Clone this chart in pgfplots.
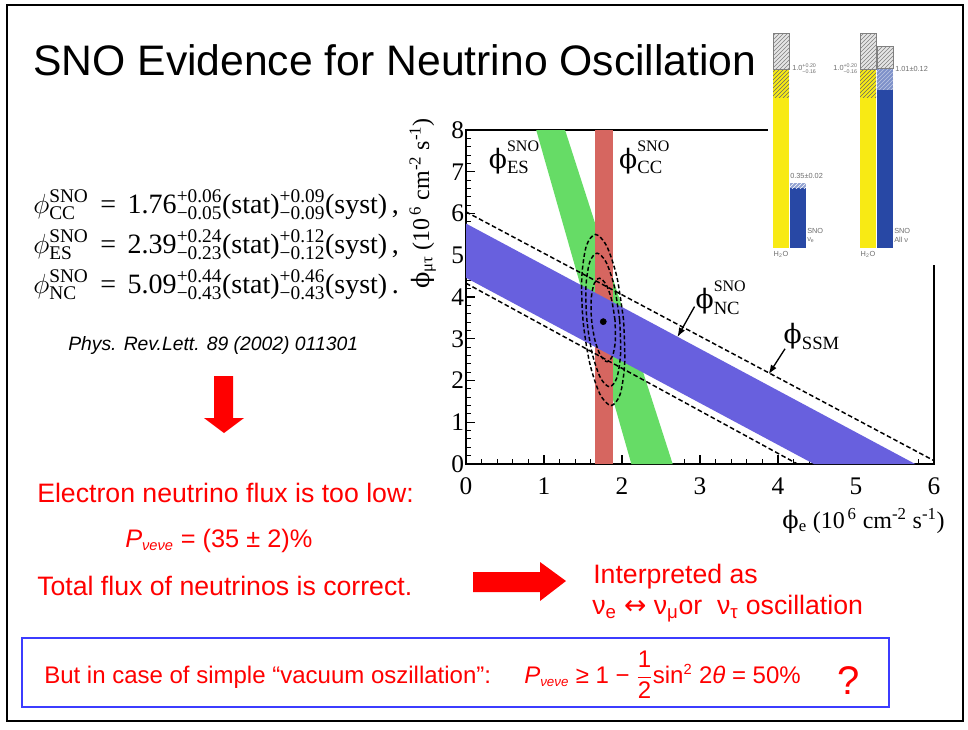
\documentclass[border=0pt]{standalone}
\usepackage{fontspec}
\setmainfont{Liberation Sans}
\newfontfamily\tms{Liberation Serif}
\newfontfamily\dvs{DejaVu Serif}
\newfontfamily\dvsans{DejaVu Sans}
\usepackage{pgfplots}
\pgfplotsset{compat=1.18}
\usetikzlibrary{patterns,arrows.meta}
\definecolor{slidered}{RGB}{255,0,0}
\definecolor{boxblue}{RGB}{60,60,255}
\definecolor{esgreen}{RGB}{102,220,102}
\definecolor{ccred}{RGB}{214,102,96}
\definecolor{ncblue}{RGB}{104,96,222}
\definecolor{barY}{RGB}{248,234,20}
\definecolor{barB}{RGB}{40,72,165}
\definecolor{insetgray}{RGB}{110,110,110}
\newcommand{\eqf}{\tms\fontsize{21}{21}\selectfont}
\newcommand{\eqs}{\tms\fontsize{14.5}{14.5}\selectfont}
\newcommand{\ud}[2]{$^{\hbox{\eqs #1}}_{\hbox{\eqs #2}}$}
\newcommand{\ins}{\fontsize{5.5}{5.5}\selectfont}
\newcommand{\insud}[2]{$^{\hbox{\fontsize{4}{4}\selectfont #1}}_{\hbox{\fontsize{4}{4}\selectfont #2}}$}
\newcommand{\ph}{{\dvs ϕ}}
% plot label: phi with SNO above and subscript below
\newcommand{\plab}[2]{\ph\rlap{\raisebox{13pt}{\tms\fontsize{12}{12}\selectfont #1}}\raisebox{-4pt}{\tms\fontsize{14}{14}\selectfont #2}}
\begin{document}
\begin{tikzpicture}
\begin{scope}[x=0.75pt,y=-0.75pt]
\fill[white] (0,0) rectangle (968,729);
\draw[line width=1.8pt] (7,5) rectangle (963,721);
% title
\node[anchor=base west,inner sep=0pt,font=\fontsize{32}{32}\selectfont] at (33,75) {SNO Evidence for Neutrino Oscillation};
% equations
\node[anchor=base west,inner sep=0pt] at (33,213) {\eqf $\phi^{\hbox{\eqs SNO}}_{\hbox{\eqs CC}}$\ \,=\ \,1.76\ud{+0.06}{−0.05}(stat)\ud{+0.09}{−0.09}(syst)\,,};
\node[anchor=base west,inner sep=0pt] at (33,253) {\eqf $\phi^{\hbox{\eqs SNO}}_{\hbox{\eqs ES}}$\ \,=\ \,2.39\ud{+0.24}{−0.23}(stat)\ud{+0.12}{−0.12}(syst)\,,};
\node[anchor=base west,inner sep=0pt] at (33,293) {\eqf $\phi^{\hbox{\eqs SNO}}_{\hbox{\eqs NC}}$\ \,=\ \,5.09\ud{+0.44}{−0.43}(stat)\ud{+0.46}{−0.43}(syst)\,.};
\node[anchor=base west,inner sep=0pt,font=\itshape\fontsize{14.5}{14.5}\selectfont] at (68,350) {Phys. Rev.Lett. 89 (2002) 011301};
% down arrow
\fill[slidered] (214,376) -- (233,376) -- (233,418) -- (244,418) -- (224,433) -- (204,418) -- (214,418) -- cycle;
% red texts
\begin{scope}[slidered]
\node[anchor=base west,inner sep=0pt,text=slidered,font=\fontsize{20}{20}\selectfont] at (37,502) {Electron neutrino flux is too low:};
\node[anchor=base west,inner sep=0pt,text=slidered,font=\fontsize{19}{19}\selectfont] at (125,547) {{\itshape P}$_{\hbox{\itshape\fontsize{11}{11}\selectfont νeνe}}$ = (35 ± 2)\%};
\node[anchor=base west,inner sep=0pt,text=slidered,font=\fontsize{20}{20}\selectfont] at (37,595) {Total flux of neutrinos is correct.};
\node[anchor=base west,inner sep=0pt,text=slidered,font=\fontsize{20}{20}\selectfont] at (593,583) {Interpreted as};
\node[anchor=base west,inner sep=0pt,text=slidered,font=\fontsize{20}{20}\selectfont] at (592,614) {ν\textsubscript{e} {\dvsans ↔} ν\textsubscript{μ}or\ \ ν\textsubscript{τ} oscillation};
\fill[slidered] (473,572) -- (540,572) -- (540,562) -- (566,581) -- (540,601) -- (540,592) -- (473,592) -- cycle;
\draw[boxblue,line width=1.6pt] (22,638) rectangle (889,707);
\node[anchor=base west,inner sep=0pt,text=slidered,font=\fontsize{18}{18}\selectfont] at (44,683) {But in case of simple “vacuum oszillation”:};
\node[anchor=base west,inner sep=0pt,text=slidered,font=\fontsize{18}{18}\selectfont] at (524,683) {{\itshape P}$_{\hbox{\itshape\fontsize{10}{10}\selectfont νeνe}}$ ≥ 1 − $\displaystyle\frac{\hbox{1}}{\hbox{2}}$sin$^{\hbox{\fontsize{11}{11}\selectfont 2}}$ 2{\itshape θ} = 50\%};
\node[anchor=base west,inner sep=0pt,text=slidered,font=\fontsize{30}{30}\selectfont] at (837,694) {?};
\end{scope}
\end{scope}

% main axis
\begin{axis}[at={(349.5pt,-348pt)}, anchor=south west, scale only axis,
  width=351pt, height=250.5pt,
  xmin=0, xmax=6, ymin=0, ymax=8,
  xtick={0,1,2,3,4,5,6}, ytick={0,1,2,3,4,5,6,7,8},
  minor x tick num=4, minor y tick num=4,
  tick align=inside, xtick pos=bottom, ytick pos=left,
  major tick length=7pt, minor tick length=3.5pt,
  every tick/.style={black, line width=0.8pt},
  axis line style={line width=0.9pt},
  /pgf/number format/assume math mode=true,
  tick label style={font=\tms\fontsize{19}{19}\selectfont},
  xticklabel style={yshift=-7pt},
  yticklabel style={xshift=2pt},
]
\addplot[fill=esgreen, draw=none] coordinates {(0.90,8) (1.27,8) (2.65,0) (2.12,0)} -- cycle;
\addplot[fill=ccred, draw=none] coordinates {(1.65,0) (1.88,0) (1.88,8) (1.65,8)} -- cycle;
\addplot[fill=ncblue, draw=none] coordinates {(0,5.76) (5.76,0) (4.46,0) (0,4.46)} -- cycle;
\addplot[black, line width=1.1pt, dash pattern=on 3.5pt off 2pt] coordinates {(0,6.04) (6,0.08)};
\addplot[black, line width=1.1pt, dash pattern=on 3.5pt off 2pt] coordinates {(0,4.33) (4.25,0)};
\addplot[black, line width=1.1pt, dash pattern=on 3pt off 1.8pt, smooth] coordinates {(2.02,3.45)(1.935,4.475)(1.803,5.225)(1.66,5.50)(1.543,5.225)(1.485,4.475)(1.50,3.45)(1.585,2.425)(1.717,1.675)(1.86,1.40)(1.977,1.675)(2.035,2.425)(2.02,3.45)};
\addplot[black, line width=1.1pt, dash pattern=on 3pt off 1.8pt, smooth] coordinates {(1.97,3.45)(1.902,4.25)(1.796,4.836)(1.68,5.05)(1.586,4.836)(1.538,4.25)(1.55,3.45)(1.618,2.65)(1.724,2.064)(1.84,1.85)(1.934,2.064)(1.982,2.65)(1.97,3.45)};
\addplot[black, line width=1.1pt, dash pattern=on 3pt off 1.8pt, smooth] coordinates {(1.91,3.45)(1.865,3.95)(1.792,4.316)(1.71,4.45)(1.642,4.316)(1.605,3.95)(1.61,3.45)(1.655,2.95)(1.728,2.584)(1.81,2.45)(1.878,2.584)(1.915,2.95)(1.91,3.45)};
\addplot[only marks, mark=*, mark size=2.3pt, black] coordinates {(1.76,3.41)};
\draw[-{Latex[length=7pt,width=5pt]}, line width=1pt] (axis cs:2.93,3.77) -- (axis cs:2.71,3.04);
\draw[-{Latex[length=7pt,width=5pt]}, line width=1pt] (axis cs:4.09,2.76) -- (axis cs:3.88,2.15);
\node[anchor=base west, inner sep=0pt, font=\tms\fontsize{20}{20}\selectfont] at (axis cs:0.29,7.08) {\plab{SNO}{ES}};
\node[anchor=base west, inner sep=0pt, font=\tms\fontsize{20}{20}\selectfont] at (axis cs:1.96,7.08) {\plab{SNO}{CC}};
\node[anchor=base west, inner sep=0pt, font=\tms\fontsize{20}{20}\selectfont] at (axis cs:2.94,3.72) {\plab{SNO}{NC}};
\node[anchor=base west, inner sep=0pt, font=\tms\fontsize{20}{20}\selectfont] at (axis cs:4.07,2.88) {\ph\raisebox{-4pt}{\tms\fontsize{14}{14}\selectfont SSM}};
\end{axis}

% inset bar chart
\begin{axis}[at={(576pt,-198.75pt)}, anchor=south west, scale only axis,
  width=144pt, height=180pt,
  xmin=768, xmax=960, ymin=-0.095, ymax=1.246,
  axis line style={draw=none}, xtick=\empty, ytick=\empty,
  axis background/.style={fill=white}, clip=false]
\addplot[fill=barY, draw=none] coordinates {(773,0)(789,0)(789,0.84)(773,0.84)} -- cycle;
\addplot[fill=barY, draw=none, postaction={pattern=north east lines, pattern color=black!60}] coordinates {(773,0.84)(789,0.84)(789,1.0)(773,1.0)} -- cycle;
\addplot[fill=gray!20, draw=gray, postaction={pattern=north east lines, pattern color=gray}] coordinates {(773,1.0)(789,1.0)(789,1.20)(773,1.20)} -- cycle;
\addplot[fill=barB, draw=none] coordinates {(790,0)(806,0)(806,0.335)(790,0.335)} -- cycle;
\addplot[fill=barB!50, draw=none, postaction={pattern=north east lines, pattern color=white}] coordinates {(790,0.335)(806,0.335)(806,0.365)(790,0.365)} -- cycle;
\addplot[fill=barY, draw=none] coordinates {(860,0)(876,0)(876,0.84)(860,0.84)} -- cycle;
\addplot[fill=barY, draw=none, postaction={pattern=north east lines, pattern color=black!60}] coordinates {(860,0.84)(876,0.84)(876,1.0)(860,1.0)} -- cycle;
\addplot[fill=gray!20, draw=gray, postaction={pattern=north east lines, pattern color=gray}] coordinates {(860,1.0)(876,1.0)(876,1.20)(860,1.20)} -- cycle;
\addplot[fill=barB, draw=none] coordinates {(877,0)(893,0)(893,0.885)(877,0.885)} -- cycle;
\addplot[fill=barB!60, draw=none, postaction={pattern=north east lines, pattern color=white!70!barB}] coordinates {(877,0.885)(893,0.885)(893,1.005)(877,1.005)} -- cycle;
\addplot[fill=gray!20, draw=gray, postaction={pattern=north east lines, pattern color=gray}] coordinates {(877,1.005)(893,1.005)(893,1.125)(877,1.125)} -- cycle;
\begin{scope}[every node/.style={inner sep=0pt, text=insetgray, font=\ins}]
\node[anchor=west] at (axis cs:792,1.0) {1.0\insud{+0.20}{−0.16}};
\node[anchor=west] at (axis cs:790,0.40) {0.35±0.02};
\node[anchor=west] at (axis cs:807,0.095) {SNO};
\node[anchor=west] at (axis cs:807,0.045) {ν\textsubscript{e}};
\node[anchor=center] at (axis cs:781,-0.035) {H\textsubscript{2}O};
\node[anchor=east] at (axis cs:858,1.0) {1.0\insud{+0.20}{−0.16}};
\node[anchor=west] at (axis cs:895,1.0) {1.01±0.12};
\node[anchor=west] at (axis cs:894,0.095) {SNO};
\node[anchor=west] at (axis cs:894,0.045) {All ν};
\node[anchor=center] at (axis cs:868,-0.035) {H\textsubscript{2}O};
\end{scope}
\end{axis}

% axis labels
\begin{scope}[x=0.75pt,y=-0.75pt]
\node[anchor=base east, inner sep=0pt, font=\tms\fontsize{18}{18}\selectfont] at (945,528) {\ph\textsubscript{e} (10\textsuperscript{\,6} cm\textsuperscript{-2} s\textsuperscript{-1})};
\node[rotate=90, anchor=base east, inner sep=0pt, font=\tms\fontsize{18}{18}\selectfont] at (429,118) {\ph\textsubscript{μτ} (10\textsuperscript{\,6} cm\textsuperscript{-2} s\textsuperscript{-1})};
\end{scope}
\end{tikzpicture}
\end{document}
